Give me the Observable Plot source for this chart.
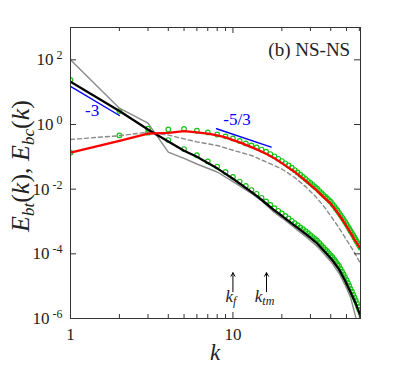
<!DOCTYPE html>
<html><head><meta charset="utf-8">
<script src="https://cdn.jsdelivr.net/npm/d3@7"></script>
<script src="https://cdn.jsdelivr.net/npm/@observablehq/plot@0.6"></script>
<style>body{margin:0;background:#fff}</style>
</head><body><div id="chart"></div>
<script>
// ---- data (k, E) ----
const blackK = [1,2,3,4,5,6,7,8,10,12,14,16,18,20,23,26,29,33,37,41,45,49,53,57,61];
const blackE = [21,2.6,0.7,0.3,0.155,0.1,0.065,0.044,0.021,0.011,0.0062,0.0036,0.0022,0.0015,0.00088,0.00055,0.00036,0.00021,0.000112,0.000063,0.000033,0.000015,0.0000065,0.0000029,0.0000012];

const grayK = [1,2,3,4,5,6,8,10,13,15,18,20,23,26,29,33,37,41,45,49,53,57,61];
const grayE = [100,3.2,1.1,0.14,0.089,0.06,0.034,0.017,0.0074,0.0044,0.0019,0.0013,0.00075,0.00046,0.0003,0.00017,0.00009,0.00005,0.000025,0.000011,0.0000045,0.0000011,0.0000003];

const redK = [1,2,3,4,5,6,7,8,9,10,11,12,13,14,16,18,20,24,28,32,36,40,44,48,52,56,61];
const redE = [0.134,0.31,0.52,0.55,0.62,0.57,0.52,0.46,0.4,0.33,0.28,0.235,0.2,0.17,0.125,0.09,0.064,0.034,0.018,0.0102,0.0058,0.00355,0.0019,0.001,0.000525,0.00028,0.000145];

const dashK = [1,2,3,4,5,6,8,10,13,16,20,24,28,32,36,40,44,48,52,56,61];
const dashE = [0.345,0.45,0.58,0.47,0.36,0.29,0.225,0.16,0.11,0.07,0.042,0.023,0.012,0.0062,0.0031,0.0015,0.00075,0.00038,0.0002,0.00011,0.00005];

const modelK = [1,2,3,4,5,6,7,8,9,10,11,12,13,14,15,16,17,18,19,20,21,22,23,24,25,26,27,28,29,30,31,32,33,34,35,36,37,38,39,40,41,42,43,44,45,46,47,48,49,50,51,52,53,54,55,56,57,58,59,60,61];
const modelBtE = [24,2.6,0.74,0.33,0.174,0.112,0.072,0.05,0.034,0.024,0.0172,0.0126,0.0094,0.0072,0.0054,0.0042,0.00327,0.0026,0.00214,0.00178,0.00148,0.00124,0.00105,0.00089,0.00077,0.00066,0.00058,0.0005,0.000437,0.00038,0.00033,0.00029,0.000257,0.000219,0.000186,0.00016,0.000138,0.00012,0.000104,0.00009,0.000079,0.000067,0.000057,0.000048,0.000042,0.000034,0.000028,0.000023,0.000019,0.0000155,0.0000126,0.0000102,0.0000083,0.0000068,0.0000055,0.0000045,0.0000036,0.00000295,0.0000023,0.00000186,0.0000015];
const modelBcE = [0.134,0.46,0.56,0.70,0.73,0.64,0.57,0.49,0.43,0.37,0.31,0.26,0.225,0.195,0.168,0.145,0.122,0.104,0.087,0.074,0.063,0.054,0.046,0.039,0.033,0.028,0.024,0.0207,0.0178,0.0155,0.0135,0.0117,0.0104,0.0089,0.0077,0.0067,0.0059,0.0052,0.0046,0.0041,0.00347,0.003,0.00254,0.00219,0.00186,0.00158,0.00135,0.00115,0.00098,0.00083,0.00071,0.0006,0.00051,0.00044,0.00038,0.00032,0.000275,0.000237,0.000204,0.000178,0.000155];

const slope3K = [1,2];
const slope3E = [15,1.9];
const slope53K = [7.93,17.2];
const slope53E = [0.74,0.2];

const xMajor = [1,10];
const xMinor = [2,3,4,5,6,7,8,9,20,30,40,50,60];
const yMajor = [1e-6,1e-4,1e-2,1,1e2];
const kf = 10, ktm = 16.1;

// ---- layout ----
const W = 415, H = 369, mL = 70, mT = 27, mR = 55, mB = 51;
const innerW = W - mL - mR, innerH = H - mT - mB;
const rows = (ks, es) => ks.map((k, i) => ({k, E: es[i]}));
const FONT = "Liberation Serif";
const green = "#14c414";

const plot = Plot.plot({
  width: W, height: H,
  marginLeft: mL, marginTop: mT, marginRight: mR, marginBottom: mB,
  style: {fontFamily: FONT, background: "white", color: "#222"},
  x: {type: "log", domain: [1, 61], label: null},
  y: {type: "log", domain: [1e-6, 1e3], label: null},
  marks: [
    Plot.dot(rows(modelK, modelBtE), {x: "k", y: "E", r: 2.3, stroke: green, strokeWidth: 1.2, fill: "none", clip: true}),
    Plot.dot(rows(modelK, modelBcE), {x: "k", y: "E", r: 2.3, stroke: green, strokeWidth: 1.2, fill: "none", clip: true}),
    Plot.line(rows(grayK, grayE), {x: "k", y: "E", stroke: "#8a8a8a", strokeWidth: 1.4, clip: true}),
    Plot.line(rows(dashK, dashE), {x: "k", y: "E", stroke: "#8a8a8a", strokeWidth: 1.4, strokeDasharray: "4,3", clip: true}),
    Plot.line(rows(blackK, blackE), {x: "k", y: "E", stroke: "#000", strokeWidth: 2.3, clip: true}),
    Plot.line(rows(redK, redE), {x: "k", y: "E", stroke: "#ff0000", strokeWidth: 2.3, clip: true}),
    Plot.line(rows(slope3K, slope3E), {x: "k", y: "E", stroke: "#0000ff", strokeWidth: 1.4}),
    Plot.line(rows(slope53K, slope53E), {x: "k", y: "E", stroke: "#0000ff", strokeWidth: 1.4}),
    Plot.text([{k: 1.36, E: 2.7, t: "-3"}], {x: "k", y: "E", text: "t", fill: "#0000ff", fontSize: 17, fontFamily: FONT}),
    Plot.text([{k: 10.6, E: 1.38, t: "-5/3"}], {x: "k", y: "E", text: "t", fill: "#0000ff", fontSize: 17, fontFamily: FONT}),
    Plot.text([{k: 52.7, E: 200, t: "(b) NS-NS"}], {x: "k", y: "E", text: "t", fill: "#222", fontSize: 19, textAnchor: "end", fontFamily: FONT}),
    Plot.arrow([{k: kf}, {k: ktm}], {x1: "k", x2: "k", y1: () => 6.7e-6, y2: () => 2.6e-5, stroke: "#000", strokeWidth: 1, headLength: 6}),
    Plot.frame({stroke: "#333", strokeWidth: 1}),
    Plot.tickX(xMinor, {x: d => d, insetTop: innerH - 4, stroke: "#333"}),
    Plot.tickX(xMinor, {x: d => d, insetBottom: innerH - 4, stroke: "#333"}),
    Plot.tickX(xMajor, {x: d => d, insetTop: innerH - 6, stroke: "#333"}),
    Plot.tickX(xMajor, {x: d => d, insetBottom: innerH - 6, stroke: "#333"}),
    Plot.tickY(yMajor, {y: d => d, insetRight: innerW - 6, stroke: "#333"}),
    Plot.tickY(yMajor, {y: d => d, insetLeft: innerW - 6, stroke: "#333"}),
    Plot.axisX({ticks: xMajor, tickSize: 0, tickPadding: 9, fontSize: 17, tickFormat: d => String(d), label: null, fontFamily: FONT}),
    Plot.axisY({ticks: yMajor, tickSize: 0, tickPadding: 8, fontSize: 17, tickFormat: d => "10^" + Math.round(Math.log10(d)), label: null, fontFamily: FONT})
  ]
});

document.getElementById("chart").appendChild(plot);
const svg = d3.select(plot);

// superscripts on y tick labels
svg.selectAll('g[aria-label="y-axis tick label"] text').each(function () {
  const parts = this.textContent.split("^");
  const s = d3.select(this);
  s.text(parts[0]);
  s.append("tspan").attr("dx", 3).attr("dy", "-0.5em").attr("font-size", 12).text(parts[1]);
});

const xs = plot.scale("x");

// y-axis title
const yl = svg.append("text")
  .attr("transform", `translate(29,166) rotate(-90)`)
  .attr("text-anchor", "middle").attr("font-family", FONT).attr("font-size", 26).attr("fill", "#222");
const add = (t, opt = {}) => {
  const s = yl.append("tspan").text(t);
  for (const [k, v] of Object.entries(opt)) s.attr(k, v);
  return s;
};
add("E", {"font-style": "italic"});
add("bt", {"font-style": "italic", "font-size": 17, dy: 5});
add("(", {dy: -5});
add("k", {"font-style": "italic"});
add("), ");
add("E", {"font-style": "italic"});
add("bc", {"font-style": "italic", "font-size": 17, dy: 5});
add("(", {dy: -5});
add("k", {"font-style": "italic"});
add(")");

// x-axis title
svg.append("text").attr("x", (mL + W - mR) / 2).attr("y", 360)
  .attr("text-anchor", "middle").attr("font-family", FONT).attr("font-size", 23)
  .attr("font-style", "italic").attr("fill", "#222").text("k");

// k_f and k_tm labels
const sub = (kv, s) => {
  const t = svg.append("text").attr("x", xs.apply(kv) - 1.5).attr("y", 302)
    .attr("text-anchor", "middle").attr("font-family", FONT).attr("font-size", 17)
    .attr("font-style", "italic").attr("fill", "#222");
  t.append("tspan").text("k");
  t.append("tspan").attr("font-size", 12).attr("dy", 3).text(s);
};
sub(kf, "f");
sub(ktm, "tm");
</script>
</body></html>
